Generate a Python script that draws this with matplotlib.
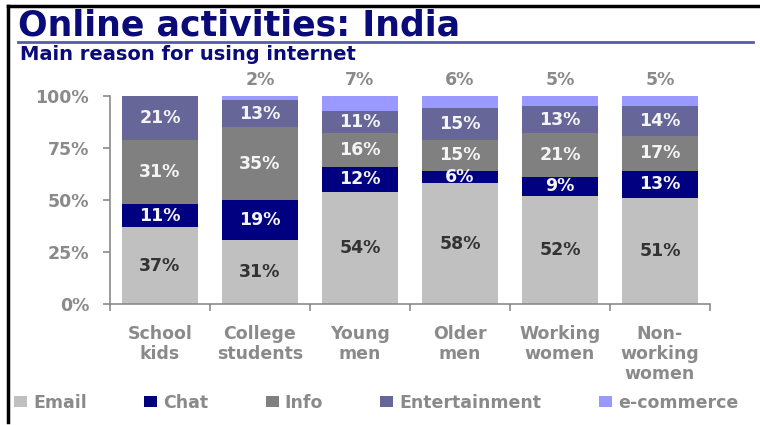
import numpy as np
import matplotlib
matplotlib.use('Agg')
import matplotlib.pyplot as plt
from matplotlib.lines import Line2D

plt.rcParams['font.family'] = ['DejaVu Sans']
plt.rcParams['font.weight'] = 'bold'

# data: share of users by main reason for using internet (%)
groups = ['School\nkids', 'College\nstudents', 'Young\nmen', 'Older\nmen',
          'Working\nwomen', 'Non-\nworking\nwomen']
series = ['Email', 'Chat', 'Info', 'Entertainment', 'e-commerce']
email = [37, 31, 54, 58, 52, 51]
chat = [11, 19, 12, 6, 9, 13]
info = [31, 35, 16, 15, 21, 17]
entertainment = [21, 13, 11, 15, 13, 14]
ecommerce = [0, 2, 7, 6, 5, 5]
yticks = [0, 25, 50, 75, 100]

colors = ['#c0c0c0', '#000080', '#808080', '#666699', '#9999ff']
label_colors = ['#333333', '#f4f4f4', '#f4f4f4', '#f4f4f4', None]
grey = '#8a8a8a'

fig = plt.figure(figsize=(7.6, 4.25), dpi=100)
ax = fig.add_axes([110 / 760, 121 / 425, 600 / 760, 208 / 425])

x = np.arange(len(groups))
values = [email, chat, info, entertainment, ecommerce]
bottom = np.zeros(len(groups))
bars = []
for name, vals, col, lcol in zip(series, values, colors, label_colors):
    vals = np.array(vals, dtype=float)
    b = ax.bar(x, vals, 0.76, bottom=bottom, color=col, label=name, linewidth=0)
    bars.append(b)
    for xi, v, b0 in zip(x, vals, bottom):
        if v <= 0:
            continue
        if lcol is None:
            # e-commerce share sits above the bar
            ax.annotate(f'{int(v)}%', (xi, b0 + v), xytext=(0, 5),
                        textcoords='offset points', ha='center', va='bottom',
                        color=grey, fontsize=12.5, fontweight='bold',
                        annotation_clip=False)
        else:
            ax.text(xi, b0 + v / 2, f'{int(v)}%', ha='center', va='center',
                    color=lcol, fontsize=12.5, fontweight='bold')
    bottom += vals

ax.set_xlim(-0.5, len(groups) - 0.5)
ax.set_ylim(0, 100)
ax.set_yticks(yticks)
ax.set_yticklabels([f'{t}%' for t in yticks], color=grey, fontsize=12.5,
                   fontweight='bold')
ax.set_xticks(x)
ax.set_xticklabels(groups, color=grey, fontsize=12.5, fontweight='bold',
                   linespacing=1.15, va='top')
ax.set_xticks(np.arange(-0.5, len(groups)), minor=True)
ax.tick_params(axis='x', which='major', length=0, pad=15)
ax.tick_params(axis='x', which='minor', length=5, color=grey, width=1.2,
               direction='out')
ax.tick_params(axis='y', length=5, color=grey, width=1.2, pad=10)
for s in ['top', 'right']:
    ax.spines[s].set_visible(False)
for s in ['left', 'bottom']:
    ax.spines[s].set_color(grey)
    ax.spines[s].set_linewidth(1.2)

leg = fig.legend(handles=bars, labels=series, loc='center left',
                 bbox_to_anchor=(14 / 760, 1 - 403 / 425), ncol=5,
                 frameon=False, borderpad=0, borderaxespad=0,
                 handlelength=0.75, handleheight=0.6, handletextpad=0.35,
                 columnspacing=3.3, prop={'size': 12.5, 'weight': 'bold'})
for t in leg.get_texts():
    t.set_color(grey)

# title block
fig.text(18 / 760, 1 - 36 / 425, 'Online activities: India', color='#0a0a78',
         fontsize=25, fontweight='bold', ha='left', va='baseline')
fig.text(20 / 760, 1 - 60 / 425, 'Main reason for using internet',
         color='#0a0a78', fontsize=14, fontweight='bold', ha='left',
         va='baseline')
fig.add_artist(Line2D([18 / 760, 753 / 760], [1 - 42 / 425, 1 - 42 / 425],
                      color='#5a5aaa', linewidth=2))

# frame edges
fig.add_artist(Line2D([8 / 760, 1], [1 - 6 / 425, 1 - 6 / 425],
                      color='black', linewidth=2.5))
fig.add_artist(Line2D([8 / 760, 8 / 760], [1 - 6 / 425, 1 - 422 / 425],
                      color='black', linewidth=2.5))

fig.savefig('out.png', dpi=100, facecolor='white')
